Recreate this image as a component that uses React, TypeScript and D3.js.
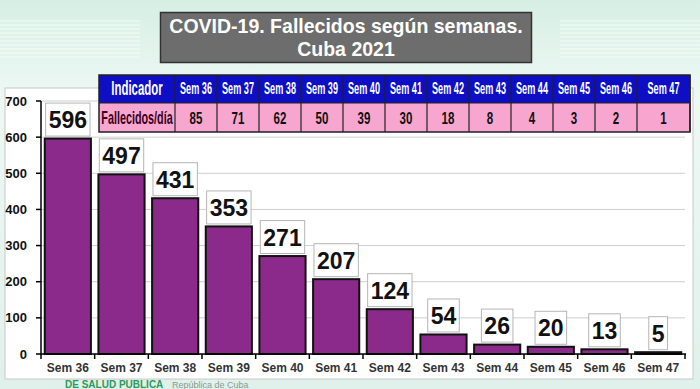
import React from "react";
import * as d3 from "d3";

const weeks = ["Sem 36", "Sem 37", "Sem 38", "Sem 39", "Sem 40", "Sem 41", "Sem 42", "Sem 43", "Sem 44", "Sem 45", "Sem 46", "Sem 47"];
const deaths = [596, 497, 431, 353, 271, 207, 124, 54, 26, 20, 13, 5];
const perDay = [85, 71, 62, 50, 39, 30, 18, 8, 4, 3, 2, 1];
const yTicks = [0, 100, 200, 300, 400, 500, 600, 700];
const titleLines = ["COVID-19. Fallecidos según semanas.", "Cuba 2021"];
const tableHeader = "Indicador";
const tableRowLabel = "Fallecidos/día";
const footer = ["DE SALUD PUBLICA", "República de Cuba"];

const W = 700, H = 389;
const FONT = "'Liberation Sans', Arial, sans-serif";

export default function App() {
  const x = d3.scaleBand<string>().domain(weeks).range([41, 685]).paddingInner(0.14).paddingOuter(0.07);
  const y = d3.scaleLinear().domain([0, 700]).range([354, 101]);
  const band = d3.scaleBand<string>().domain(weeks).range([41, 685]);

  // table columns
  const tX0 = 99, tX1 = 175, tEndReg = 637, tEnd = 690;
  const colW = (tEndReg - tX1) / 11;
  const colLeft = (i: number) => tX1 + i * colW;
  const colRight = (i: number) => (i === weeks.length - 1 ? tEnd : tX1 + (i + 1) * colW);
  const r0 = 75, r1 = 103, r2 = 132;

  return (
    <svg width={W} height={H} style={{ position: "absolute", left: 0, top: 0, display: "block" }} fontFamily={FONT}>
      <defs>
        <linearGradient id="bg" x1="0" y1="0" x2="0" y2="1">
          <stop offset="0" stopColor="#d6efe5" />
          <stop offset="0.25" stopColor="#eef8f4" />
          <stop offset="1" stopColor="#dff1ea" />
        </linearGradient>
        <pattern id="stripes" width="4" height="4" patternUnits="userSpaceOnUse">
          <rect width="4" height="2" fill="#ffffff" opacity="0.35" />
        </pattern>
      </defs>
      <rect x={0} y={0} width={W} height={H} fill="url(#bg)" />
      <rect x={0} y={20} width={140} height={40} fill="url(#stripes)" />
      <rect x={560} y={20} width={140} height={40} fill="url(#stripes)" />
      <text x={65} y={388} fontSize={10} fontWeight="bold" fill="#2e9a5a">{footer[0]}</text>
      <text x={172} y={388} fontSize={9} fill="#8a9a90">{footer[1]}</text>

      {/* panel */}
      <rect x={5} y={88} width={688} height={291} fill="#ffffff" stroke="#c8c8c8" strokeWidth={1} />

      {/* title */}
      <rect x={160.5} y={12.5} width={371} height={50} fill="#6d6d6d" stroke="#333" strokeWidth={1.5} />
      <text x={346} y={33} textAnchor="middle" fill="#fff" fontSize={19.5} fontWeight="bold">{titleLines[0]}</text>
      <text x={346} y={56} textAnchor="middle" fill="#fff" fontSize={19.5} fontWeight="bold">{titleLines[1]}</text>

      {/* gridlines */}
      {yTicks.filter(t => t > 0).map(t => (
        <line key={t} x1={41} x2={685} y1={y(t)} y2={y(t)} stroke="#cfcfcf" strokeWidth={1} />
      ))}

      {/* bars */}
      {weeks.map((w, i) => (
        <rect key={w} x={x(w)!} y={y(deaths[i])} width={x.bandwidth()} height={y(0) - y(deaths[i])}
          fill="#8b2a8a" stroke="#111" strokeWidth={2} />
      ))}

      {/* axes */}
      <line x1={41} x2={41} y1={y(700)} y2={y(0)} stroke="#000" strokeWidth={1.5} />
      <line x1={41} x2={686} y1={y(0)} y2={y(0)} stroke="#000" strokeWidth={1.5} />
      {yTicks.map(t => (
        <g key={t}>
          <line x1={36} x2={41} y1={y(t)} y2={y(t)} stroke="#000" strokeWidth={1.5} />
          <text x={27} y={y(t) + 4.5} textAnchor="end" fontSize={13} fontWeight="bold" fill="#111">{t}</text>
        </g>
      ))}
      {weeks.map((w, i) => (
        <g key={w}>
          <line x1={band(w)! + band.bandwidth()} x2={band(w)! + band.bandwidth()} y1={y(0)} y2={y(0) + 5} stroke="#000" strokeWidth={1.5} />
          <text x={band(w)! + band.bandwidth() / 2} y={372} textAnchor="middle" fontSize={12} fontWeight="bold" fill="#333">{w}</text>
        </g>
      ))}
      <line x1={41} x2={41} y1={y(0)} y2={y(0) + 5} stroke="#000" strokeWidth={1.5} />

      {/* value labels */}
      {weeks.map((w, i) => {
        const s = String(deaths[i]);
        const tw = s.length * 12.8;
        const bw = tw + 6;
        const cx = x(w)! + x.bandwidth() / 2;
        const bottom = y(deaths[i]) - 2.5;
        return (
          <g key={w}>
            <rect x={cx - bw / 2} y={bottom - 33} width={bw} height={33} fill="#fff" stroke="#b5b5b5" strokeWidth={1} />
            <text x={cx} y={bottom - 8} textAnchor="middle" fontSize={24} fontWeight="bold" fill="#111"
              textLength={tw} lengthAdjust="spacingAndGlyphs">{s}</text>
          </g>
        );
      })}

      {/* table */}
      <rect x={tX0} y={r0} width={tEnd - tX0} height={r1 - r0} fill="#0e0ec4" />
      <rect x={tX0} y={r1} width={tEnd - tX0} height={r2 - r1} fill="#f7a6d0" />
      <line x1={tX0} x2={tEnd} y1={r1} y2={r1} stroke="#222" strokeWidth={1.2} />
      <rect x={tX0} y={r0} width={tEnd - tX0} height={r2 - r0} fill="none" stroke="#222" strokeWidth={1.5} />
      <line x1={tX1} x2={tX1} y1={r0} y2={r2} stroke="#222" strokeWidth={1.2} />
      {weeks.map((w, i) => (
        <line key={w} x1={colRight(i)} x2={colRight(i)} y1={r0} y2={r2} stroke="#222" strokeWidth={1.2} />
      ))}
      <text transform={`translate(${(tX0 + tX1) / 2},${r0 + 20}) scale(0.57,1)`} textAnchor="middle" fontSize={20} fontWeight="bold" fill="#fff">{tableHeader}</text>
      <text transform={`translate(${(tX0 + tX1) / 2},${r1 + 21}) scale(0.6,1)`} textAnchor="middle" fontSize={18} fontWeight="bold" fill="#3a0022">{tableRowLabel}</text>
      {weeks.map((w, i) => {
        const cx = (colLeft(i) + colRight(i)) / 2;
        return (
          <g key={w}>
            <text transform={`translate(${cx},${r0 + 19}) scale(0.57,1)`} textAnchor="middle" fontSize={16} fontWeight="bold" fill="#fff">{w}</text>
            <text transform={`translate(${cx},${r1 + 21}) scale(0.68,1)`} textAnchor="middle" fontSize={17} fontWeight="bold" fill="#111">{perDay[i]}</text>
          </g>
        );
      })}
    </svg>
  );
}
